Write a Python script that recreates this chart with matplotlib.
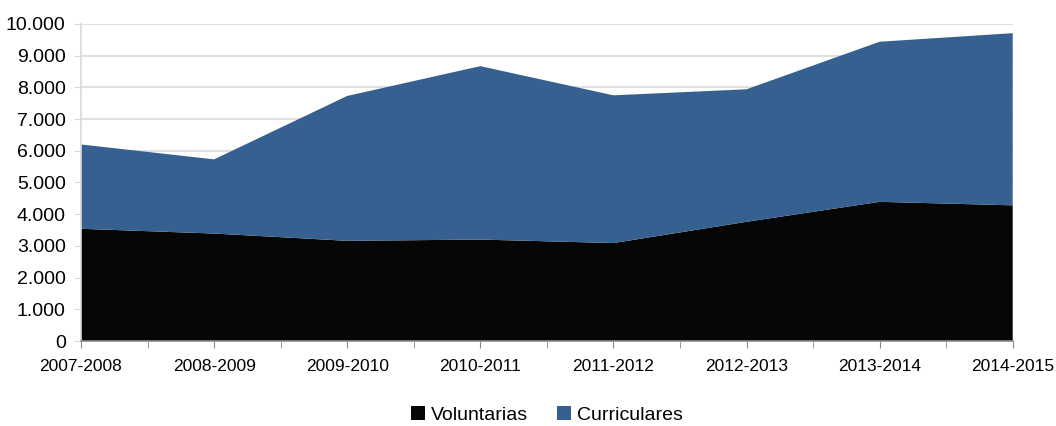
import matplotlib.pyplot as plt
from matplotlib.ticker import FuncFormatter, MultipleLocator
from matplotlib import font_manager

years = ['2007-2008', '2008-2009', '2009-2010', '2010-2011',
         '2011-2012', '2012-2013', '2013-2014', '2014-2015']
voluntarias = [3540, 3390, 3160, 3200, 3090, 3760, 4390, 4280]
curriculares = [2660, 2340, 4570, 5470, 4660, 4180, 5050, 5430]

names = {f.name for f in font_manager.fontManager.ttflist}
fam = ['Liberation Sans Narrow', 'Liberation Sans', 'DejaVu Sans']
fam = [f for f in fam if f in names] + ['DejaVu Sans']
plt.rcParams['font.family'] = fam

fig = plt.figure(figsize=(10.56, 4.26), dpi=100)
ax = fig.add_axes([0.0767, 0.1995, 0.8823, 0.7442])

x = list(range(len(years)))
ax.stackplot(x, voluntarias, curriculares, colors=['#060606', '#35608F'],
             labels=['Voluntarias', 'Curriculares'], zorder=2)

ax.set_xlim(0, len(years) - 1)
ax.set_ylim(0, 10000)
ax.yaxis.set_major_locator(MultipleLocator(1000))
ax.yaxis.set_major_formatter(FuncFormatter(lambda v, p: f"{int(v):,}".replace(',', '.')))
ax.set_xticks(x)
ax.set_xticklabels(years)
ax.set_xticks([i + 0.5 for i in x[:-1]], minor=True)

ax.grid(axis='y', color='#d9d9d9', linewidth=1.2, zorder=0)
ax.set_axisbelow(True)
for s in ['top', 'right']:
    ax.spines[s].set_visible(False)
ax.spines['left'].set_color('#d9d9d9')
ax.spines['bottom'].set_color('#8c8c8c')
ax.spines['left'].set_linewidth(1.2)
ax.spines['bottom'].set_linewidth(1.2)
ax.tick_params(axis='y', length=5, color='#d9d9d9', labelsize=14, pad=6)
ax.tick_params(axis='x', which='both', length=5, color='#8c8c8c', labelsize=12.5, pad=8)

ax.legend(loc='upper center', bbox_to_anchor=(0.5, -0.15), ncol=2, frameon=False,
          fontsize=14, handlelength=0.7, handleheight=0.7, handletextpad=0.3,
          columnspacing=1.5)

fig.savefig('out.png', dpi=100)
